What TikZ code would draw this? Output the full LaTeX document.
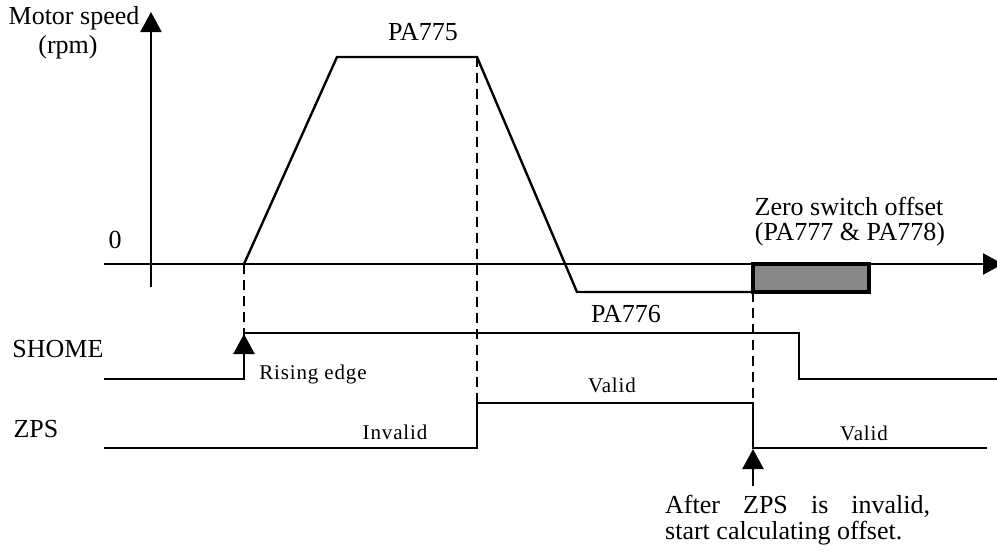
\documentclass[tikz,border=0pt]{standalone}
\usepackage{fontspec}
\setmainfont{Liberation Serif}
\usetikzlibrary{arrows.meta}
\tikzset{
  sig/.style={line width=2.4pt, line join=miter},
  dsh/.style={line width=2.6pt, dash pattern=on 10pt off 6pt},
  bigtxt/.style={font=\fontsize{26}{28}\selectfont, inner sep=0pt},
  smalltxt/.style={font=\fontsize{21}{23}\selectfont\addfontfeature{LetterSpace=4}, inner sep=0pt},
  tri/.style={-{Triangle[length=20pt,width=21pt]}}
}
\begin{document}
\begin{tikzpicture}[x=1pt,y=-1pt]
\useasboundingbox (0,0) rectangle (997,554);
% axes
\coordinate (yb) at (151,287);
\coordinate (yt) at (151,12);
\coordinate (xl) at (104,264);
\coordinate (xr) at (1003,264);
\draw[sig,tri] (yb) -- (yt);
\draw[sig,tri] (xl) -- (xr);
% offset box
\draw[fill=black!47, line width=3.2pt] (753,264) rectangle (869,292);
% speed curve
\coordinate (s0) at (244,264);
\coordinate (s1) at (337,57);
\coordinate (s2) at (477,57);
\coordinate (s3) at (577,292);
\coordinate (s4) at (753,292);
\draw[sig] (s0) -- (s1) -- (s2) -- (s3) -- (s4);
% dashed guides
\draw[dsh] (244,264) -- (244,335);
\draw[dsh] (477,57) -- (477,403);
\draw[dsh] (753,292) -- (753,403);
% SHOME
\draw[sig] (104,379) -- (244,379) -- (244,333) -- (799,333) -- (799,379) -- (997,379);
\draw[sig,tri] (244,360) -- (244,334);
% ZPS
\draw[sig] (104,448) -- (477,448) -- (477,403) -- (753,403) -- (753,448) -- (987,448);
\draw[sig,tri] (753,486) -- (753,449);
% labels
\node[bigtxt] (ms) at (74,18) {Motor speed};
\node[bigtxt] (rpm) at (68,47) {(rpm)};
\node[bigtxt] (zero) at (115,240) {0};
\node[bigtxt] (pa775) at (423,32) {PA775};
\node[bigtxt] (pa776) at (626,314) {PA776};
\node[bigtxt] (zso) at (849,206) {Zero switch offset};
\node[bigtxt] (pa777) at (850,234) {(PA777 \& PA778)};
\node[bigtxt] (shome) at (58,349) {SHOME};
\node[bigtxt] (zps) at (36,429) {ZPS};
\node[smalltxt] (re) at (313,374) {Rising edge};
\node[smalltxt] (v1) at (612,385) {Valid};
\node[smalltxt] (inv) at (395,432) {Invalid};
\node[smalltxt] (v2) at (864,433) {Valid};
\node[bigtxt, anchor=north west, align=left] (note) at (665,495)
  {\makebox[265pt][s]{After\hfill ZPS\hfill is\hfill invalid,}\\[-2pt]start calculating offset.};
\end{tikzpicture}
\end{document}
